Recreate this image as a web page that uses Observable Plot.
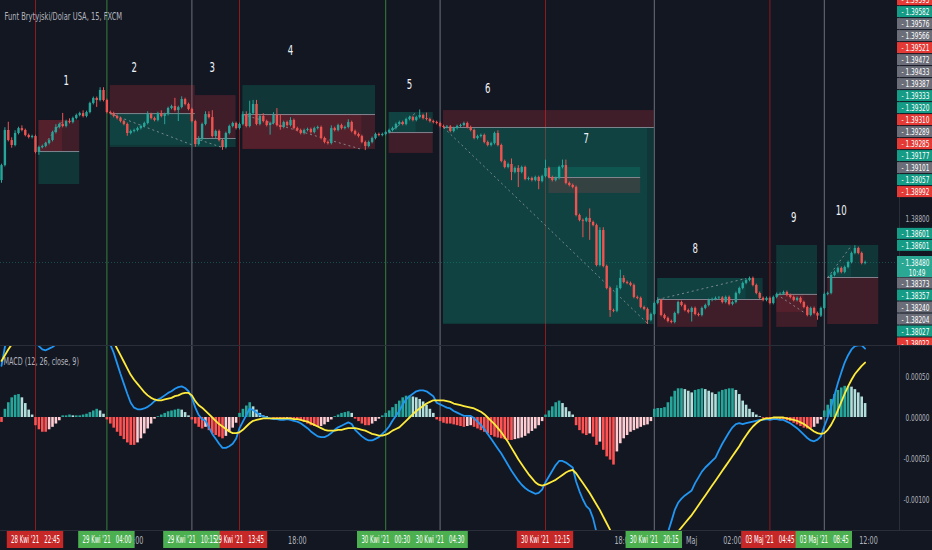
<!DOCTYPE html>
<html><head><meta charset="utf-8">
<script src="https://cdn.jsdelivr.net/npm/d3@7"></script>
<script src="https://cdn.jsdelivr.net/npm/@observablehq/plot@0.6"></script>
<style>
html,body{margin:0;padding:0;background:#131722;}
#chart{width:932px;height:550px;overflow:hidden;background:#131722;}
#chart svg{display:block;}
#price{border-bottom:1px solid #2a2e39;}
#taxis{border-top:1px solid #2a2e39;}
</style></head><body><div id="chart"><div id="price"></div><div id="macd"></div><div id="taxis"></div></div>
<script>
const TITLE = "Funt Brytyjski/Dolar USA, 15, FXCM";
const MACD_TITLE = "MACD (12, 26, close, 9)";

// 15-minute candles. Prices as pips above 1.38000 (price = 1.38 + pips/10000)
const firstOpenPips = 107.6;
const closePips = [
118.5,144.0,136.7,133.1,141.8,145.4,144.0,140.4,138.9,139.6,
128.0,131.6,132.4,134.5,136.7,142.5,146.2,148.4,146.9,150.5,
149.8,152.7,154.9,156.3,154.2,157.1,163.6,167.3,165.8,173.1,
165.8,157.1,156.3,154.2,152.7,150.5,148.4,141.8,143.3,144.0,
145.4,146.9,149.1,155.6,152.7,151.3,156.3,154.2,155.6,160.0,
161.4,158.5,160.7,166.5,162.9,159.3,150.5,133.8,137.5,148.4,
155.6,153.4,139.6,143.3,136.7,131.6,141.8,146.9,149.1,145.4,
148.4,155.6,146.9,156.3,162.9,148.4,154.2,150.5,147.6,149.1,
154.9,147.6,146.2,149.8,147.6,151.3,145.4,144.0,141.8,144.0,
144.7,142.5,145.4,146.2,138.2,135.3,134.5,145.4,144.0,147.6,
145.4,146.2,149.8,143.3,141.1,139.6,135.3,132.4,135.3,138.2,
141.1,140.4,141.1,142.5,144.0,145.4,148.4,149.8,148.4,152.0,
153.4,151.3,153.4,154.9,152.7,152.0,150.5,149.8,149.1,146.9,
146.2,146.6,143.3,145.4,146.9,147.6,149.1,146.2,144.0,138.2,
139.6,140.4,135.3,133.1,134.5,141.8,133.1,121.5,117.1,119.3,
113.5,116.4,113.5,117.1,108.4,109.1,107.6,109.8,106.9,110.5,
116.4,109.8,107.6,109.1,117.1,118.5,105.5,104.0,102.6,82.2,
78.6,78.0,80.0,77.1,74.9,45.8,71.3,45.1,29.1,13.1,
12.5,29.1,36.4,33.5,32.8,31.3,22.6,21.9,15.3,13.9,
5.9,10.2,18.2,20.4,9.5,7.3,5.1,4.4,10.9,18.9,
16.7,13.1,11.7,14.6,10.2,9.5,14.6,16.7,20.4,21.1,
21.9,22.2,18.9,22.6,17.5,18.9,25.5,29.1,32.8,34.9,
36.4,31.3,25.5,21.9,20.4,21.9,18.2,22.6,24.8,25.0,
26.2,24.0,22.6,20.4,21.9,18.9,15.3,9.5,14.6,10.9,
9.0,14.6,24.8,25.5,38.6,40.8,43.7,40.8,44.4,48.0,
54.6,58.2,54.6,47.3,48.0];
// wick length beyond the body, pips, one base-36 digit per candle
const wickUpPips = ["1262212111","1111112181","2111211112","2111111111","1112111211","1612111121","2251111111","1229331211","2581121111","1111111211","1121111111","1111111111","1114141111","1111111111","1111112111","4121111111","6111144111","1117112211","1262111111","1112111111","1111111111","1111111111","1111111111","1111111111","1111111111","12111"].join("");
const wickDownPips = ["2112111111","1211111111","1111111151","1111111211","1111111161","1181111211","1112121111","1111111117","1121111111","1111111111","1111111311","1111111111","1111111111","1111111111","1111111111","61b1111161","1111111111","1c1d111115","1111111111","3111111111","1117111111","1111111111","1111111111","1111111111","3111111111","11111"].join("");

// MACD (units of 0.00001): signal line and histogram; MACD line = signal + histogram
const macdSignal = [
69,76,83,89,94,98,101,103,104,105,
104,102,101,100,99,98,97,96,96,96,
97,97,97,98,98,99,100,101,102,103,
102,101,97,92,84,76,68,60,52,46,
41,36,31,27,24,22,21,21,22,23,
24,26,27,29,30,30,27,20,15,12,
8,4,0,-4,-8,-11,-14,-17,-19,-19,
-18,-15,-11,-7,-4,-3,-2,-1,-1,-1,
-1,-1,-1,-1,-1,-1,-2,-2,-3,-4,
-5,-7,-9,-11,-13,-15,-16,-16,-16,-15,
-15,-14,-13,-13,-13,-14,-15,-16,-18,-20,
-21,-22,-22,-21,-19,-16,-14,-12,-8,-4,
0,4,8,11,14,17,19,21,21,21,
21,20,19,17,16,15,14,13,12,11,
9,7,4,0,-4,-8,-13,-18,-24,-30,
-37,-44,-51,-57,-63,-69,-74,-79,-82,-83,
-82,-80,-78,-76,-73,-70,-67,-65,-64,-68,
-74,-80,-86,-92,-99,-106,-113,-121,-129,-137,
-145,-152,-158,-164,-169,-173,-176,-178,-179,-179,
-178,-176,-174,-171,-167,-163,-158,-152,-145,-139,
-134,-129,-124,-119,-113,-107,-101,-95,-89,-83,
-77,-71,-65,-59,-53,-47,-41,-35,-28,-22,
-16,-11,-7,-4,-2,-1,-1,0,0,0,
0,-1,-2,-3,-4,-6,-8,-11,-14,-17,
-19,-20,-19,-15,-9,-1,9,19,29,38,
46,53,58,63,67];
const macdHist = [
-6,10,18,24,27,28,24,17,9,3,
-10,-15,-18,-18,-15,-12,-8,-4,2,2,
3,2,2,2,3,4,6,8,10,8,
4,-3,-8,-13,-18,-23,-27,-31,-34,-34,
-31,-26,-20,-14,-8,-2,1,3,5,7,
8,9,10,9,6,2,-3,-8,-12,-14,
-12,-16,-20,-22,-24,-26,-23,-18,-13,-7,
5,10,14,18,13,9,5,2,1,0,
-1,-1,-2,-2,-1,-2,-2,-3,-4,-6,
-8,-10,-11,-12,-11,-9,-6,-3,1,3,
5,6,7,5,-2,-5,-8,-10,-10,-8,
-5,-2,2,5,8,12,16,20,24,26,
26,25,24,22,19,15,10,5,-3,-5,
-7,-8,-8,-9,-10,-11,-12,-11,-10,-12,
-14,-16,-18,-20,-22,-24,-25,-26,-27,-28,
-28,-27,-26,-25,-23,-20,-17,-14,-10,-5,
3,8,13,18,20,17,12,7,3,-10,
-16,-20,-22,-20,-24,-34,-30,-40,-48,-52,
-58,-42,-32,-26,-22,-18,-16,-14,-12,-10,
-9,-5,10,11,11,12,18,25,32,35,
35,34,32,30,33,34,35,34,32,30,
28,31,33,34,35,35,33,28,20,15,
10,6,3,1,-1,-1,-2,-2,-2,-3,
-3,-4,-5,-7,-9,-11,-13,-14,-14,-12,
-8,-3,8,15,22,28,33,36,38,38,
37,34,30,25,17];

// highlighted times (bar index), badge text, badge colour, line colour
const markIdx = [10,31,56,70,113,129,160,192,226,242];
const markText = ["28 Kwi '21   22:45","29 Kwi '21   04:00","29 Kwi '21   10:15","29 Kwi '21   13:45","30 Kwi '21   00:30","30 Kwi '21   04:30","30 Kwi '21   12:15","30 Kwi '21   20:15","03 Maj '21   04:45","03 Maj '21   08:45"];
const markBadge = ["red","green","green","red","green","green","red","green","red","green"];
const markLine = ["red","green","gray","red","green","gray","red","gray","red","gray"];
// plain time-axis labels (those peeking out from under the badges)
const tickIdx = [39,87,183,203,215,255];
const tickText = ["06:00","18:00","18:00","Maj","02:00","12:00"];

// position tools (bar index, pips)
const boxStart  = [11,32,57,71,114,130,161,193,228,243];
const boxEnd    = [23,57,69,110,127,192,188,224,240,258];
const boxEntry  = [128.7,156.3,138.2,155.6,142.5,146.2,109.8,21.1,24.8,37.1];
const boxTarget = [104.7,131.6,131.6,176.7,157.1,2.9,117.1,36.4,60.4,60.4];
const boxStop   = [151.3,176.7,169.4,130.2,127.3,158.5,98.2,0.8,0.8,2.9];
const boxExitIdx  = [18,56.5,65,106,122,190,null,219,236,250];
const boxExitPips = [151.3,133.1,131.6,130.2,157.1,3.7,null,36.4,11.7,60.4];
// numbered annotations
const noteIdx  = [19,39,62,85,120,143,172,204,233,247];
const notePips = [180.3,189.8,189.8,202.2,177.4,174.5,138.2,58.2,80.7,85.8];
const noteText = ["1","2","3","4","5","6","7","8","9","10"];

// price-scale badges
const badgeValues = ["1.39595","1.39582","1.39576","1.39566","1.39521","1.39472","1.39433","1.39387","1.39333","1.39320","1.39310","1.39289","1.39285","1.39177","1.39101","1.39057","1.38992","1.38601","1.38601","1.38373","1.38357","1.38240","1.38204","1.38027","1.38022"];
const badgeKinds = ["red","green","gray","gray","red","gray","gray","gray","green","green","red","gray","red","green","gray","green","red","green","green","gray","green","gray","gray","green","red"];
const lastPriceText = "1.38480";
const countdownText = "10:49";
const priceTicks = [1.388];
const macdTicks = [0.0005, 0, -0.0005, -0.001];

// ---------- layout / style ----------
const W = 932, H1 = 345, H2 = 184, H3 = 19;
const X0 = 1, PX_PER_BAR = 3.4;
const PRICE_REF = 1.388, PRICE_REF_PX = 218, PX_PER_PRICE = 13750;
const MACD_ZERO_PX = 71, PX_PER_MACD = 82000;
const FONT = "'Liberation Sans Narrow','DejaVu Sans Condensed',Roboto,sans-serif";
const NARROW = 0.68;          // the reference's lettering is horizontally condensed
const TIME_BADGE_TEXT_W = 49;
const C = {text:"#b2b5be", up:"#26a69a", down:"#ef5350", blue:"#2196f3", yellow:"#ffeb3b", sep:"#2a2e39", profit:"#089981", loss:"#f23645"};
const badgeFill = {red:"#e53935", green:"#159c86", gray:"#6b6e79"};
const lineCol = {red:"#b71c1c", green:"#43a047", gray:"#8a8d97"};
const timeBadgeFill = {red:"#c62828", green:"#4caf50"};

const pip = v => 1.38 + v/10000;
const pAt = y => PRICE_REF + (PRICE_REF_PX - y)/PX_PER_PRICE;
const xDomain = [-X0/PX_PER_BAR, (W - X0)/PX_PER_BAR];
const AXIS_IDX = (899 - X0)/PX_PER_BAR;
const BADGE_IDX = (897 - X0)/PX_PER_BAR;

const candles = closePips.map((c, i) => {
  const o = i === 0 ? firstOpenPips : closePips[i-1];
  const u = parseInt(wickUpPips[i] || "1", 36), d = parseInt(wickDownPips[i] || "1", 36);
  return {i, open: pip(o), close: pip(c), high: pip(Math.max(o,c)+u), low: pip(Math.min(o,c)-d), col: c >= o ? C.up : C.down};
});
const lastClose = candles[candles.length-1].close;

const macd = macdSignal.map((s, i) => {
  const h = macdHist[i], hp = i ? macdHist[i-1] : h;
  const col = h >= 0 ? (h >= hp ? "#26a69a" : "#b2dfdb") : (h <= hp ? "#ff5252" : "#ffcdd2");
  return {i, signal: s*1e-5, hist: h*1e-5, macd: (s+h)*1e-5, col};
});

const boxes = boxStart.map((s, k) => ({
  s, e: boxEnd[k], entry: pip(boxEntry[k]), target: pip(boxTarget[k]), stop: pip(boxStop[k]),
  xi: boxExitIdx[k], xp: boxExitPips[k] == null ? null : pip(boxExitPips[k])
}));
const exited = boxes.filter(b => b.xi != null).map(b => ({...b,
  fill: Math.sign(b.xp - b.entry) === Math.sign(b.target - b.entry) ? C.profit : C.loss}));

const marks = markIdx.map((i, k) => ({i, text: markText[k].replace(/ {3}/g, "\u00a0\u00a0\u00a0"), badge: markBadge[k], line: lineCol[markLine[k]]}));
const ticks = tickIdx.map((i, k) => ({i, text: tickText[k]}));
const notes = noteIdx.map((i, k) => ({i, y: pip(notePips[k]), text: noteText[k]}));

// stack the price badges like the price scale does
const GAP = 12, lastPx = PRICE_REF_PX - (lastClose - PRICE_REF)*PX_PER_PRICE;
const bItems = badgeValues.map((t, k) => ({t, v: +t, kind: badgeKinds[k], ty: PRICE_REF_PX - (+t - PRICE_REF)*PX_PER_PRICE}));
const above = bItems.filter(b => b.v > lastClose).sort((a, b) => b.ty - a.ty);
let limit = lastPx - 12;
for (const b of above) { b.py = Math.min(b.ty, limit); limit = b.py - GAP; }
const below = bItems.filter(b => b.v <= lastClose).sort((a, b) => a.ty - b.ty);
limit = lastPx + 21;
for (const b of below) { b.py = Math.max(b.ty, limit); limit = b.py + GAP; }
const badges = [...above, ...below].map(b => ({...b, y: pAt(b.py), y1: pAt(b.py - 5.5), y2: pAt(b.py + 5.5)}));
const cur = {y1: pAt(lastPx - 6), y2: pAt(lastPx + 15), y: lastClose, yc: pAt(lastPx + 10)};

const common = {width: W, marginTop: 0, marginRight: 0, marginBottom: 0, marginLeft: 0,
  x: {domain: xDomain, axis: null}, color: {type: "identity"}, style: {background: "transparent", fontFamily: FONT}};

// ---------- price panel ----------
const pricePlot = Plot.plot({...common, height: H1,
  y: {domain: [pAt(H1), pAt(0)], axis: null},
  marks: [
    Plot.ruleX(marks, {x: "i", stroke: d => d.line, strokeOpacity: 0.75}),
    Plot.ruleY([lastClose], {x1: xDomain[0], x2: AXIS_IDX, stroke: C.up, strokeOpacity: 0.35, strokeDasharray: "1,2"}),
    Plot.rect(boxes, {x1: "s", x2: "e", y1: "entry", y2: "target", fill: C.profit, fillOpacity: 0.24}),
    Plot.rect(boxes, {x1: "s", x2: "e", y1: "entry", y2: "stop", fill: C.loss, fillOpacity: 0.2}),
    Plot.rect(exited, {x1: "s", x2: "xi", y1: "entry", y2: "xp", fill: d => d.fill, fillOpacity: 0.12}),
    Plot.ruleY(boxes, {y: "entry", x1: "s", x2: "e", stroke: "#8c8f99", strokeOpacity: 0.9}),
    Plot.link(exited, {x1: "s", y1: "entry", x2: "xi", y2: "xp", stroke: "#9598a1", strokeOpacity: 0.8, strokeDasharray: "2,3"}),
    Plot.ruleX(candles, {x: "i", y1: "low", y2: "high", stroke: "col", strokeWidth: 1}),
    Plot.ruleX(candles, {x: "i", y1: "open", y2: "close", stroke: "col", strokeWidth: 2.4}),
    Plot.text(notes, {x: "i", y: "y", text: "text", fill: "#f0f3fa", fontSize: 14}),
    Plot.ruleX([AXIS_IDX], {stroke: C.sep}),
    Plot.text(priceTicks, {y: d => d, text: d => d.toFixed(5), frameAnchor: "right", dx: -3, textAnchor: "end", fill: C.text, fontSize: 9.5}),
    Plot.rect(badges, {x1: BADGE_IDX, x2: xDomain[1], y1: "y1", y2: "y2", fill: d => badgeFill[d.kind]}),
    Plot.text(badges, {y: "y", text: d => "- " + d.t, frameAnchor: "right", dx: -3, textAnchor: "end", fill: "#ffffff", fontSize: 9.5}),
    Plot.rect([cur], {x1: BADGE_IDX, x2: xDomain[1], y1: "y1", y2: "y2", fill: "#2aa894"}),
    Plot.text([cur], {y: "y", text: () => "- " + lastPriceText, frameAnchor: "right", dx: -3, textAnchor: "end", fill: "#ffffff", fontSize: 9.5}),
    Plot.text([cur], {y: "yc", text: () => countdownText, frameAnchor: "right", dx: -7, textAnchor: "end", fill: "#ffffff", fontSize: 9.5}),
    Plot.text([TITLE], {frameAnchor: "top-left", dx: 4, dy: 12, textAnchor: "start", fill: C.text, fontSize: 11})
  ]
});

// ---------- MACD panel ----------
const mAt = y => (MACD_ZERO_PX - y)/PX_PER_MACD;
const macdPlot = Plot.plot({...common, height: H2,
  y: {domain: [mAt(H2), mAt(0)], axis: null},
  marks: [
    Plot.ruleX(marks, {x: "i", stroke: d => d.line, strokeOpacity: 0.75}),
    Plot.ruleX(macd, {x: "i", y1: 0, y2: "hist", stroke: "col", strokeWidth: 2.6}),
    Plot.text([MACD_TITLE], {frameAnchor: "top-left", dx: 3, dy: 11, textAnchor: "start", fill: C.text, fontSize: 10.5}),
    Plot.line(macd, {x: "i", y: "macd", stroke: C.blue, strokeWidth: 1.8, clip: true}),
    Plot.line(macd, {x: "i", y: "signal", stroke: C.yellow, strokeWidth: 1.8, clip: true}),
    Plot.ruleX([AXIS_IDX], {stroke: C.sep}),
    Plot.text(macdTicks, {y: d => d, text: d => d.toFixed(5), frameAnchor: "right", dx: -3, textAnchor: "end", fill: C.text, fontSize: 9.5})
  ]
});

// ---------- time axis ----------
const orderedMarks = [...marks.filter(d => d.badge === "red"), ...marks.filter(d => d.badge !== "red")];
const timePlot = Plot.plot({...common, height: H3,
  y: {domain: [0, 1], axis: null},
  marks: [
    Plot.text(ticks, {x: "i", text: "text", fill: C.text, fontSize: 10.5}),
    Plot.rect(orderedMarks, {x1: d => d.i - 8.3, x2: d => d.i + 8.3, fill: d => timeBadgeFill[d.badge], insetBottom: 2}),
    Plot.text(orderedMarks, {x: "i", text: "text", fill: "#ffffff", fontSize: 10, dy: -1})
  ]
});

document.getElementById("price").append(pricePlot);
document.getElementById("macd").append(macdPlot);
document.getElementById("taxis").append(timePlot);

// condense the lettering horizontally, as in the reference, keeping each text's anchor in place
const badgeTexts = new Set(orderedMarks.map(d => d.text));
document.querySelectorAll("#chart svg text").forEach(el => {
  const b = el.getBBox();
  if (!b.width) return;
  const anchor = getComputedStyle(el).textAnchor;
  const f = badgeTexts.has(el.textContent) ? TIME_BADGE_TEXT_W / b.width : NARROW;
  const ax = anchor === "end" ? b.x + b.width : anchor === "middle" ? b.x + b.width/2 : b.x;
  const t = el.getAttribute("transform") || "";
  el.setAttribute("transform", `${t} translate(${ax.toFixed(2)},0) scale(${f.toFixed(3)},1) translate(${(-ax).toFixed(2)},0)`.trim());
});
</script></body></html>
